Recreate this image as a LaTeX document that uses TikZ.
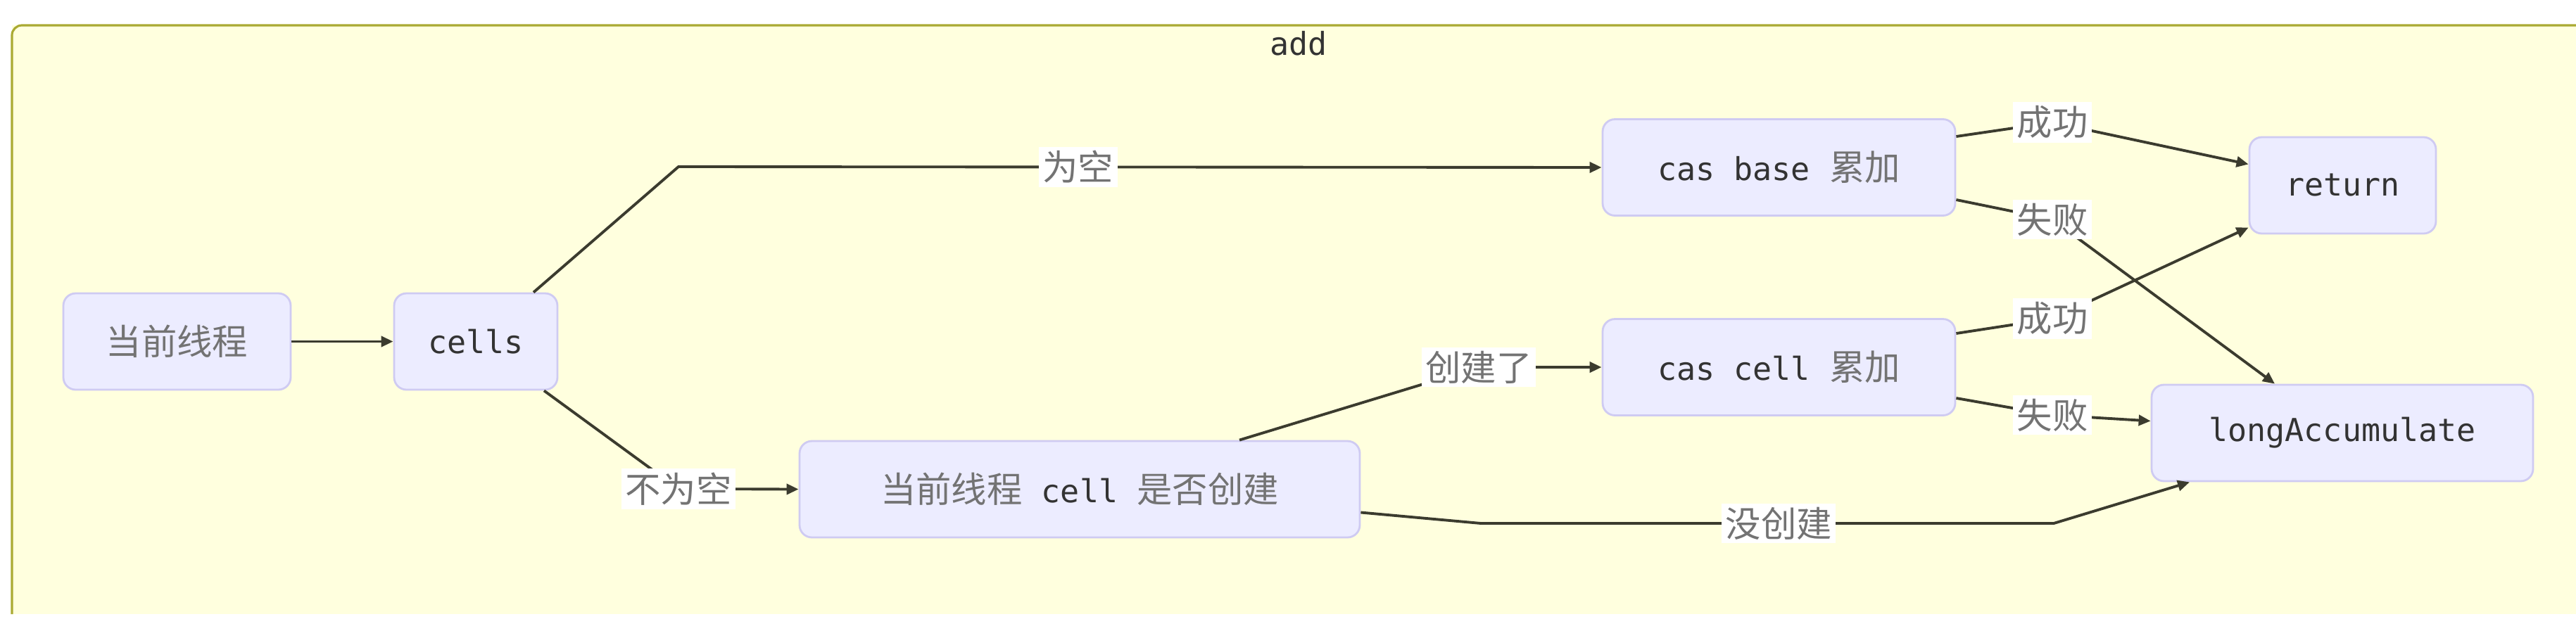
\documentclass[tikz,border=0pt]{standalone}
\usepackage{fontspec}
\setmonofont{DejaVu Sans Mono}
\newfontfamily\cjk{Noto Sans CJK SC}[Scale=1.12]
\usetikzlibrary{positioning,calc,arrows.meta}

\definecolor{clusterfill}{HTML}{FFFFDE}
\definecolor{clusterline}{HTML}{AAAA33}
\definecolor{boxfill}{HTML}{ECECFF}
\definecolor{boxline}{HTML}{CFCBF2}
\definecolor{ink}{HTML}{333333}
\newcommand{\boxfont}{\fontsize{12.8pt}{15pt}\selectfont\ttfamily}
\newcommand{\zh}[1]{{\cjk\color{black!55}#1}}

\begin{document}
\begin{tikzpicture}[font=\boxfont, text=ink]
\tikzset{
  box/.style={draw=boxline, rounded corners=5pt, fill=boxfill, line width=0.8pt, minimum height=1.37cm, inner sep=0pt},
  lbl/.style={fill=white, inner sep=1.5pt, text=black!55, font=\fontsize{12.8pt}{15pt}\cjk},
  flow/.style={draw=ink!90!olive, line width=1.1pt, -{Triangle[length=1.7mm,width=1.5mm]}}
}
\useasboundingbox (0,0) rectangle (36.6,-9.06);
% cluster
\fill[clusterfill] (0.17,-0.36) rectangle (36.6,-8.73);
\draw[clusterline, line width=0.9pt, rounded corners=4pt] (0.17,-8.73) -- (0.17,-0.36) -- (36.8,-0.36);
\node (title) at (18.45,-0.62) {add};
% boxes
\node[box, minimum width=3.23cm] (cur) at (2.515,-4.855) {\zh{当前线程}};
\node[box, minimum width=2.32cm] (cells) at (6.76,-4.855) {cells};
\node[box, minimum width=7.96cm] (chk) at (15.34,-6.955) {\zh{当前线程} cell \zh{是否创建}};
\node[box, minimum width=5.01cm] (base) at (25.275,-2.38) {cas base \zh{累加}};
\node[box, minimum width=5.01cm] (cell) at (25.275,-5.22) {cas cell \zh{累加}};
\node[box, minimum width=2.65cm] (ret) at (33.285,-2.635) {return};
\node[box, minimum width=5.42cm] (acc) at (33.28,-6.155) {longAccumulate};
% bends
\coordinate (b1) at (9.64,-2.37);
\coordinate (b2) at (9.64,-6.95);
\coordinate (b3) at (21.01,-5.22);
\coordinate (b4) at (21.04,-7.44);
\coordinate (b5) at (29.18,-7.44);
\coordinate (s1) at (29.16,-1.74);
\coordinate (f1) at (29.16,-3.12);
\coordinate (s2) at (29.16,-4.53);
\coordinate (f2) at (29.16,-5.90);
% edges
\draw[flow] (cur) -- (cells);
\draw[flow] ([xshift=8.2mm]cells.north) -- (b1) -- node[lbl, pos=0.433]{为空} (base.west);
\draw[flow] ([xshift=9.7mm]cells.south) -- (b2) node[lbl]{不为空} -- (chk.west);
\draw[flow] ([xshift=22.7mm]chk.north) -- (b3) node[lbl]{创建了} -- (cell.west);
\draw[flow] ([yshift=-3.3mm]chk.east) -- (b4) -- node[lbl, pos=0.52]{没创建} (b5) -- ([xshift=-21.7mm]acc.south);
\draw[flow] ([yshift=4.4mm]base.east) -- (s1) node[lbl]{成功} -- ([yshift=3mm]ret.west);
\draw[flow] ([yshift=-4.6mm]base.east) -- (f1) node[lbl]{失败} -- ([xshift=-9.6mm]acc.north);
\draw[flow] ([yshift=4.8mm]cell.east) -- (s2) node[lbl]{成功} -- ([yshift=-6mm]ret.west);
\draw[flow] ([yshift=-4.4mm]cell.east) -- (f2) node[lbl]{失败} -- ([yshift=1.7mm]acc.west);
\end{tikzpicture}
\end{document}
